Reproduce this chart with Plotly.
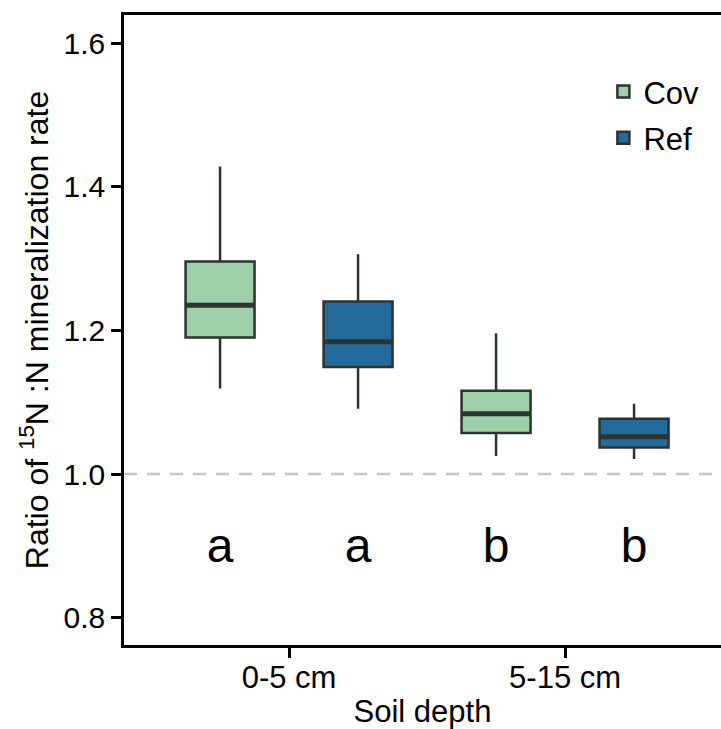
import plotly.graph_objects as go

# Soil depth classes on the x axis
depths = ["0-5 cm", "5-15 cm"]

# Box summaries of the 15N:N mineralization-rate ratio per treatment
cov_q1 = [1.190, 1.057]
cov_median = [1.235, 1.084]
cov_q3 = [1.296, 1.116]
cov_low = [1.119, 1.025]
cov_high = [1.428, 1.196]

ref_q1 = [1.149, 1.037]
ref_median = [1.184, 1.052]
ref_q3 = [1.240, 1.077]
ref_low = [1.091, 1.021]
ref_high = [1.306, 1.098]

# Significance letters
cov_letters = ["a", "b"]
ref_letters = ["a", "b"]
letter_y = [0.894, 0.894]

COV_FILL = "#9dcfa8"
REF_FILL = "#236b9b"
EDGE = "#2d332f"
FONT = "Liberation Sans, Arial, sans-serif"

fig = go.Figure()

series = [
    ("Cov", COV_FILL, cov_q1, cov_median, cov_q3, cov_low, cov_high, cov_letters),
    ("Ref", REF_FILL, ref_q1, ref_median, ref_q3, ref_low, ref_high, ref_letters),
]

for name, fill, q1, med, q3, lo, hi, letters in series:
    fig.add_trace(go.Box(
        name=name, x=depths, q1=q1, median=med, q3=q3,
        lowerfence=lo, upperfence=hi,
        fillcolor=fill, line=dict(color=EDGE, width=2.5), whiskerwidth=0,
        offsetgroup=name, alignmentgroup="boxes", legendgroup=name,
        boxpoints=False, hoverinfo="skip",
    ))

for name, fill, q1, med, q3, lo, hi, letters in series:
    # heavier median bar drawn as a flat box on top of each box
    fig.add_trace(go.Box(
        name=name, x=depths, q1=med, median=med, q3=med,
        lowerfence=med, upperfence=med,
        fillcolor=fill, line=dict(color=EDGE, width=5), whiskerwidth=0,
        offsetgroup=name, alignmentgroup="boxes", legendgroup=name,
        boxpoints=False, showlegend=False, hoverinfo="skip",
    ))

for name, fill, q1, med, q3, lo, hi, letters in series:
    fig.add_trace(go.Scatter(
        x=depths, y=letter_y, text=letters, mode="text",
        textfont=dict(size=48, color="black", family=FONT),
        offsetgroup=name, alignmentgroup="letters",
        showlegend=False, hoverinfo="skip",
    ))

fig.add_hline(y=1.0, line=dict(color="#c6c6c6", width=2.5, dash="13px,10px"), layer="below")

fig.update_layout(
    width=721, height=729,
    margin=dict(l=124, r=0, t=15, b=84),
    paper_bgcolor="white", plot_bgcolor="white",
    boxmode="group", boxgap=0, boxgroupgap=0.5,
    scattermode="group", scattergap=0,
    font=dict(family=FONT, size=31, color="black"),
    legend=dict(
        x=0.803, y=0.921, xanchor="left", yanchor="top",
        font=dict(size=31, color="black", family=FONT),
        bgcolor="rgba(0,0,0,0)", traceorder="grouped", tracegroupgap=3,
    ),
    showlegend=True,
)

fig.update_xaxes(
    type="category", range=[-0.598, 1.565], automargin=False,
    showline=True, linecolor="black", linewidth=2.5, mirror=True,
    ticks="outside", ticklen=10, tickwidth=2.5, tickcolor="black",
    tickfont=dict(size=31, color="black"), ticklabelstandoff=-7,
    showgrid=False, zeroline=False,
    title=dict(text="Soil depth", font=dict(size=31, color="black"), standoff=14),
)

fig.update_yaxes(
    range=[0.762, 1.639], automargin=False,
    tickvals=[0.8, 1.0, 1.2, 1.4, 1.6], ticktext=["0.8", "1.0", "1.2", "1.4", "1.6"],
    showline=True, linecolor="black", linewidth=2.5, mirror=False,
    ticks="outside", ticklen=10, tickwidth=2.5, tickcolor="black",
    tickfont=dict(size=30, color="black"),
    showgrid=False, zeroline=False,
    title=dict(text="Ratio of <sup>15</sup>N :N mineralization rate",
               font=dict(size=32, color="black"), standoff=6),
)

fig.write_html("out.html")
